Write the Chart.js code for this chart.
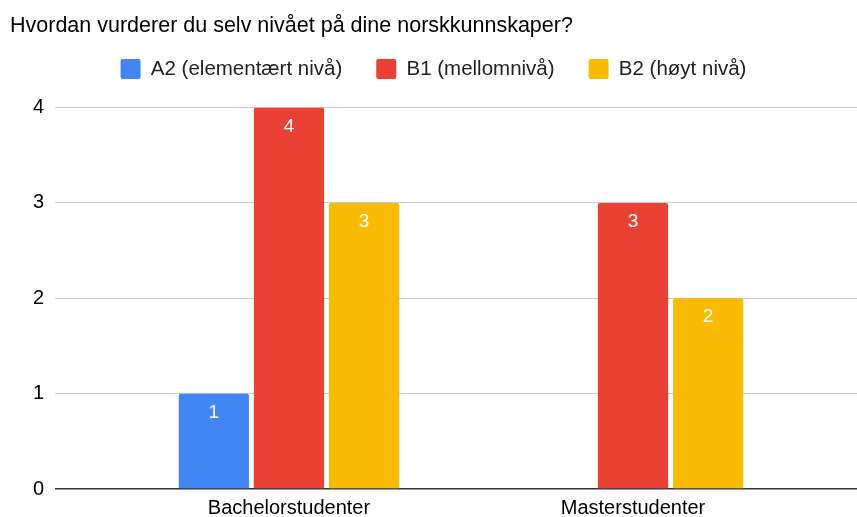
<!DOCTYPE html>
<html>
<head>
<meta charset="utf-8">
<script src="https://cdn.jsdelivr.net/npm/chart.js@4/dist/chart.umd.min.js"></script>
<style>
  html, body { margin: 0; padding: 0; background: #fff; }
  #wrap { width: 857px; height: 517px; }
</style>
</head>
<body>
<div id="wrap"><canvas id="chart" width="857" height="517"></canvas></div>
<script>
const categories = ["Bachelorstudenter", "Masterstudenter"];
const seriesNames = ["A2 (elementært nivå)", "B1 (mellomnivå)", "B2 (høyt nivå)"];
const a2Values = [1, 0];
const b1Values = [4, 3];
const b2Values = [3, 2];
const yTicks = [0, 1, 2, 3, 4];

const colors = ["#4285f4", "#e94235", "#fabb05"];
const FONT = "'Liberation Sans', Arial, sans-serif";

function toPoints(vals) {
  return vals.map((v, i) => ({ x: i, y: v }));
}

// white value labels inside the top of each bar
const barLabels = {
  id: 'barLabels',
  afterDatasetsDraw(chart) {
    const ctx = chart.ctx;
    ctx.save();
    ctx.fillStyle = '#fff';
    ctx.font = '19px ' + FONT;
    ctx.textAlign = 'center';
    ctx.textBaseline = 'middle';
    chart.data.datasets.forEach((ds, di) => {
      const meta = chart.getDatasetMeta(di);
      meta.data.forEach((el, i) => {
        const v = ds.data[i].y;
        if (!v) return;
        ctx.fillText(String(v), el.x, el.y + 19);
      });
    });
    ctx.restore();
  }
};

const allVals = [a2Values, b1Values, b2Values];

new Chart(document.getElementById('chart').getContext('2d'), {
  type: 'bar',
  data: {
    datasets: seriesNames.map((name, k) => ({
      label: name,
      data: toPoints(allVals[k]),
      backgroundColor: colors[k],
      borderRadius: 2,
      categoryPercentage: 0.655,
      barPercentage: 0.935
    }))
  },
  options: {
    responsive: false,
    animation: false,
    layout: { padding: { left: 10, right: 0, top: 0, bottom: 0 } },
    plugins: {
      title: {
        display: true,
        text: 'Hvordan vurderer du selv nivået på dine norskkunnskaper?',
        align: 'start',
        color: '#000',
        font: { family: FONT, size: 21.5, weight: 'normal' },
        padding: { top: 13, bottom: -14 }
      },
      subtitle: {
        // empty spacer between legend and plot
        display: true,
        text: '',
        weight: 500,
        font: { size: 1 },
        padding: { top: 17, bottom: 0 }
      },
      legend: {
        display: true,
        labels: {
          color: '#222',
          font: { family: FONT, size: 20.5 },
          boxWidth: 20,
          boxHeight: 20,
          useBorderRadius: true,
          borderRadius: 2,
          padding: 34
        }
      },
      tooltip: { enabled: false }
    },
    scales: {
      x: {
        type: 'linear',
        offset: false,
        min: -0.68,
        max: 1.651,
        afterBuildTicks(scale) {
          scale.ticks = categories.map((c, i) => ({ value: i }));
        },
        afterFit(scale) { scale.height = 28; },
        ticks: {
          color: '#000',
          font: { family: FONT, size: 20 },
          padding: 7,
          maxRotation: 0,
          autoSkip: false,
          callback: (v) => categories[v]
        },
        grid: { display: false, drawTicks: false },
        border: { display: false }
      },
      y: {
        min: 0,
        max: 4,
        afterBuildTicks(scale) {
          scale.ticks = yTicks.map(v => ({ value: v }));
        },
        afterFit(scale) { scale.width = 45; },
        ticks: {
          color: '#000',
          font: { family: FONT, size: 20 },
          padding: 11
        },
        grid: {
          color: (c) => c.tick && c.tick.value === 0 ? '#333' : '#ccc',
          lineWidth: (c) => c.tick && c.tick.value === 0 ? 1.5 : 1,
          drawTicks: false
        },
        border: { display: false }
      }
    }
  },
  plugins: [barLabels]
});
</script>
</body>
</html>
